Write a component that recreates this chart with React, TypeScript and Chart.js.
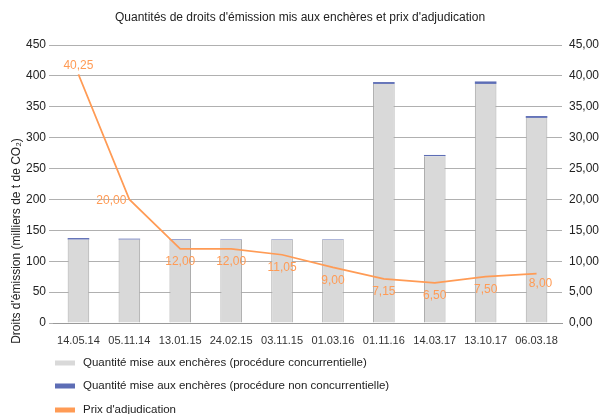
import React, { useEffect, useRef } from "react";
import { Chart, registerables } from "chart.js";

Chart.register(...registerables);

const categories = ["14.05.14", "05.11.14", "13.01.15", "24.02.15", "03.11.15", "01.03.16", "01.11.16", "14.03.17", "13.10.17", "06.03.18"];
const competitive = [135, 135, 134.5, 134.5, 134.5, 134.5, 387, 270, 387, 332];
const nonCompetitive = [2.5, 1.5, 1, 0.8, 0.8, 0.8, 3, 2, 4, 3];
const prices = [40.25, 20.0, 12.0, 12.0, 11.05, 9.0, 7.15, 6.5, 7.5, 8.0];
const leftTicks = [0, 50, 100, 150, 200, 250, 300, 350, 400, 450];
const legendLabels = [
  "Quantité mise aux enchères (procédure concurrentielle)",
  "Quantité mise aux enchères (procédure non concurrentielle)",
  "Prix d'adjudication",
];
const titleText = "Quantités de droits d'émission mis aux enchères et prix d'adjudication";
const yTitle = "Droits d'émission (milliers de t de CO₂)";

const GRAY = "#d9d9d9";
const GRAY_BORDER = "#a8a8a8";
const BLUE = "#5d6db5";
const ORANGE = "#ff9b55";
const FONT = "Liberation Sans, Arial, sans-serif";

const fmt = (v: number) => v.toFixed(2).replace(".", ",");

export default function App() {
  const ref = useRef<HTMLCanvasElement>(null);
  useEffect(() => {
    document.body.style.margin = "0";
    const extras = {
      id: "extras",
      afterDraw(chart: any) {
        const ctx = chart.ctx;
        ctx.save();
        // title
        ctx.fillStyle = "#222";
        ctx.font = `12px ${FONT}`;
        ctx.textAlign = "center";
        ctx.textBaseline = "middle";
        ctx.fillText(titleText, 300, 18);
        // y title
        ctx.save();
        ctx.translate(17, 241);
        ctx.rotate(-Math.PI / 2);
        ctx.font = `12px ${FONT}`;
        ctx.fillStyle = "#222";
        ctx.fillText(yTitle, 0, 0);
        ctx.restore();
        // price labels
        const meta = chart.getDatasetMeta(2);
        ctx.font = `12px ${FONT}`;
        ctx.fillStyle = ORANGE;
        meta.data.forEach((pt: any, i: number) => {
          let x = pt.x;
          let y = pt.y + 13;
          ctx.textAlign = "center";
          if (i === 0) {
            y = pt.y - 9;
          } else if (i === 1) {
            ctx.textAlign = "right";
            x = pt.x - 3;
            y = pt.y + 1;
          } else if (i === 9) {
            x = pt.x + 4;
            y = pt.y + 10;
          }
          ctx.fillText(fmt(prices[i]), x, y);
        });
        // legend
        const colors = [GRAY, BLUE, ORANGE];
        const ys = [363, 386, 410];
        ctx.textAlign = "left";
        ctx.font = `11.5px ${FONT}`;
        legendLabels.forEach((lab, i) => {
          ctx.fillStyle = colors[i];
          ctx.fillRect(55, ys[i] - 2.5, 20, 5);
          ctx.fillStyle = "#222";
          ctx.fillText(lab, 83, ys[i]);
        });
        ctx.restore();
      },
    };
    const chart = new Chart(ref.current!, {
      type: "bar",
      data: {
        labels: categories,
        datasets: [
          {
            type: "bar",
            label: legendLabels[0],
            data: competitive,
            backgroundColor: GRAY,
            borderColor: GRAY_BORDER,
            borderWidth: { left: 1, right: 1, top: 0, bottom: 0 },
            stack: "q",
            yAxisID: "y",
            categoryPercentage: 0.8,
            barPercentage: 0.53,
            order: 2,
          } as any,
          {
            type: "bar",
            label: legendLabels[1],
            data: nonCompetitive,
            backgroundColor: BLUE,
            borderWidth: 0,
            stack: "q",
            yAxisID: "y",
            categoryPercentage: 0.8,
            barPercentage: 0.53,
            order: 2,
          } as any,
          {
            type: "line",
            label: legendLabels[2],
            data: prices,
            borderColor: ORANGE,
            backgroundColor: ORANGE,
            borderWidth: 1.7,
            pointRadius: 0,
            tension: 0,
            yAxisID: "y1",
            order: 1,
          } as any,
        ],
      },
      options: {
        animation: false,
        responsive: false,
        maintainAspectRatio: false,
        layout: { padding: { top: 45, left: 0, right: 0, bottom: 0 } },
        plugins: { legend: { display: false }, tooltip: { enabled: false }, title: { display: false } },
        scales: {
          x: {
            stacked: true,
            grid: { display: false, drawTicks: false },
            border: { display: true, color: "#9a9a9a" },
            ticks: { color: "#333", font: { family: FONT, size: 11 }, padding: 11, maxRotation: 0, autoSkip: false },
            afterFit(s: any) { s.height = 91; },
          },
          y: {
            stacked: true,
            position: "left",
            min: 0,
            max: 450,
            afterBuildTicks(s: any) { s.ticks = leftTicks.map((v) => ({ value: v })); },
            grid: { color: "#b0b0b0", tickLength: 4, tickColor: "#b0b0b0" },
            border: { display: false },
            ticks: { color: "#222", font: { family: FONT, size: 12 }, padding: 3 },
            afterFit(s: any) { s.width = 53; },
          },
          y1: {
            position: "right",
            min: 0,
            max: 45,
            afterBuildTicks(s: any) { s.ticks = leftTicks.map((v) => ({ value: v / 10 })); },
            grid: { display: false, drawTicks: false },
            border: { display: false },
            ticks: { color: "#222", font: { family: FONT, size: 12 }, padding: 7, callback: (v: any) => fmt(Number(v)) },
            afterFit(s: any) { s.width = 37; },
          },
        },
      } as any,
      plugins: [extras],
    });
    return () => chart.destroy();
  }, []);
  return (
    <div style={{ position: "fixed", left: 0, top: 0, width: 599, height: 414 }}>
      <canvas ref={ref} width={599} height={414} style={{ width: 599, height: 414 }} />
    </div>
  );
}
